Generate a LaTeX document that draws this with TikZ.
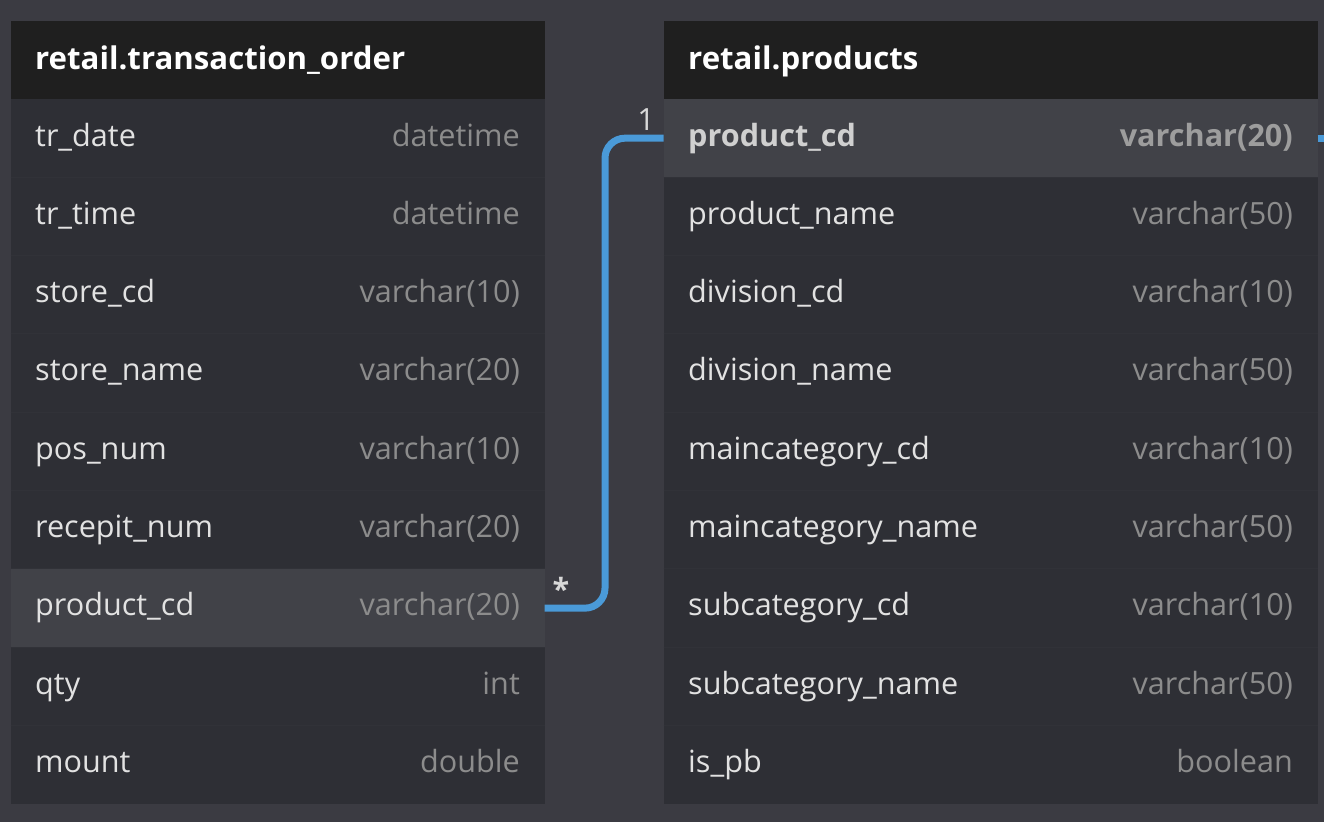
\documentclass[tikz,border=0pt]{standalone}
\usepackage{fontspec}
\setmainfont{Open Sans}
\definecolor{bgc}{HTML}{3B3B42}
\definecolor{bodyc}{HTML}{2E2F35}
\definecolor{hlc}{HTML}{414248}
\definecolor{headc}{HTML}{1F1F1F}
\definecolor{sepc}{HTML}{313238}
\definecolor{namec}{HTML}{E2E2E2}
\definecolor{typec}{HTML}{8C8C8C}
\definecolor{linkc}{HTML}{4A9AD8}
\begin{document}
\begin{tikzpicture}[x=1pt,y=-1pt,
  tbox/.style={draw=none,inner sep=0pt,outer sep=0pt,anchor=north west,minimum height=78.33pt},
  headbox/.style={tbox,fill=headc,minimum height=78pt},
  rowbox/.style={tbox,fill=bodyc},
  hlbox/.style={tbox,fill=hlc},
  fsz/.style={font=\fontsize{30.6}{36}\selectfont},
  headtxt/.style={font=\fontsize{31.2}{36}\selectfont\bfseries,text=white,inner sep=0pt,anchor=base west},
  nametxt/.style={fsz,text=namec,inner sep=0pt,anchor=base west},
  typetxt/.style={fsz,text=typec,inner sep=0pt,anchor=base east},
  sepline/.style={draw=sepc,line width=1pt},
  conn/.style={draw=linkc,line width=7pt,rounded corners=20pt},
  cardtxt/.style={fsz,text=namec!90!gray,inner sep=0pt}
]
\fill[bgc] (0,0) rectangle (1324,822);
\useasboundingbox (0,0) rectangle (1324,822);

% ---------- left table ----------
\node[headbox,minimum width=534pt] (lhead) at (10.7,21) {};
\node[headtxt] (lheadt) at (35,69) {retail.transaction\_order};
\foreach \n/\t [count=\i] in {tr\_date/datetime,tr\_time/datetime,store\_cd/varchar(10),store\_name/varchar(20),pos\_num/varchar(10),recepit\_num/varchar(20),product\_cd/varchar(20),qty/int,mount/double}{
  \pgfmathsetmacro{\top}{99+78.33*(\i-1)}
  \ifnum\i=7
    \node[hlbox,minimum width=534pt] (lrow\i) at (10.7,\top) {};
  \else
    \node[rowbox,minimum width=534pt] (lrow\i) at (10.7,\top) {};
  \fi
  \ifnum\i>1 \draw[sepline] (10.7,\top) -- (544.7,\top); \fi
  \node[nametxt] (lname\i) at (35,\top+47) {\n};
  \node[typetxt] (ltype\i) at (520,\top+47) {\t};
}

% ---------- right table ----------
\node[headbox,minimum width=654pt] (rhead) at (663.5,21) {};
\node[headtxt] (rheadt) at (688,69) {retail.products};
\foreach \n/\t [count=\i] in {product\_cd/varchar(20),product\_name/varchar(50),division\_cd/varchar(10),division\_name/varchar(50),maincategory\_cd/varchar(10),maincategory\_name/varchar(50),subcategory\_cd/varchar(10),subcategory\_name/varchar(50),is\_pb/boolean}{
  \pgfmathsetmacro{\top}{99+78.33*(\i-1)}
  \ifnum\i=1
    \node[hlbox,minimum width=654pt] (rrow\i) at (663.5,\top) {};
    \node[nametxt,font=\fontsize{30.6}{36}\selectfont\bfseries,text=namec!92!black] (rname\i) at (688,\top+47) {\n};
    \node[typetxt,font=\fontsize{30.6}{36}\selectfont\bfseries,text=typec!85!white] (rtype\i) at (1293,\top+47) {\t};
  \else
    \node[rowbox,minimum width=654pt] (rrow\i) at (663.5,\top) {};
    \draw[sepline] (663.5,\top) -- (1317.5,\top);
    \node[nametxt] (rname\i) at (688,\top+47) {\n};
    \node[typetxt] (rtype\i) at (1293,\top+47) {\t};
  \fi
}

% ---------- connector ----------
\coordinate (bend) at (605,0);
\draw[conn] (lrow7.east) -- (lrow7.east -| bend) |- (rrow1.west);
\coordinate (offedge) at (1330,138.2);
\draw[draw=linkc,line width=7pt] (rrow1.east) -- (rrow1.east -| offedge);
\node[cardtxt] (cardone) at (646,120) {1};
\node[cardtxt,font=\fontsize{30.6}{36}\selectfont\bfseries] (cardmany) at (561,589) {*};
\end{tikzpicture}
\end{document}
